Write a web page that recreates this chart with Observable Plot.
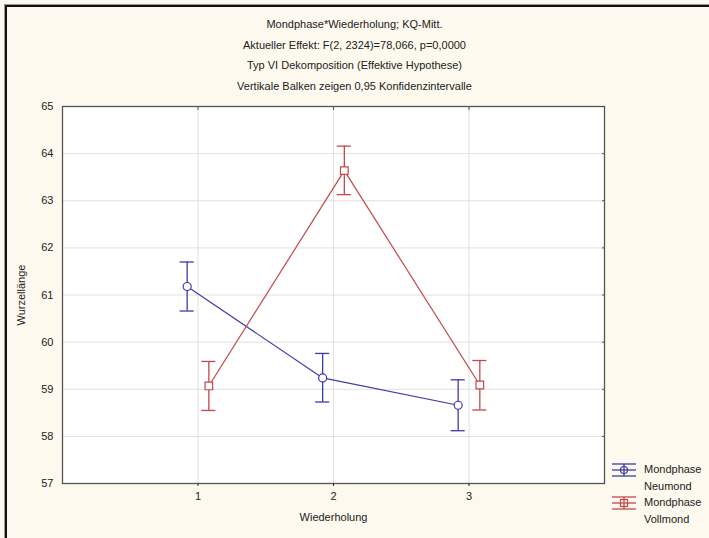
<!DOCTYPE html>
<html><head><meta charset="utf-8">
<script src="https://cdn.jsdelivr.net/npm/d3@7"></script>
<script src="https://cdn.jsdelivr.net/npm/@observablehq/plot@0.6"></script>
<style>
html,body{margin:0;padding:0;}
body{width:709px;height:538px;background:#fdf9ee;position:relative;overflow:hidden;font-family:"Liberation Sans",Arial,sans-serif;}
#border{position:absolute;left:5px;top:5px;width:720px;height:560px;border-left:2px solid #111;border-top:2px solid #111;box-shadow:-1px -1px 0 #999;}
#titles{position:absolute;left:0;top:14px;width:709px;text-align:center;font-size:11px;color:#222;line-height:20.5px;}
#chart{position:absolute;left:0;top:0;}
#legend{position:absolute;left:612px;top:461px;font-size:11px;color:#222;line-height:16.5px;}
#legend .row{display:flex;align-items:flex-start;}
#legend svg{margin-right:6px;margin-top:2px;}
</style></head>
<body>
<div id="border"></div>
<div id="chart"></div>
<div id="titles"></div>
<div id="legend"></div>
<script>
const titleLines = [
  "Mondphase*Wiederholung; KQ-Mitt.",
  "Aktueller Effekt: F(2, 2324)=78,066, p=0,0000",
  "Typ VI Dekomposition (Effektive Hypothese)",
  "Vertikale Balken zeigen 0,95 Konfidenzintervalle"
];
const repetitions = [1, 2, 3];
const series = ["Neumond", "Vollmond"];
const seriesLabels = ["Mondphase\nNeumond", "Mondphase\nVollmond"];
const neumondMean = [61.18, 59.24, 58.66];
const neumondLow  = [60.66, 58.73, 58.12];
const neumondHigh = [61.70, 59.76, 59.20];
const vollmondMean = [59.07, 63.64, 59.09];
const vollmondLow  = [58.55, 63.13, 58.56];
const vollmondHigh = [59.59, 64.16, 59.61];
const yTicks = [57, 58, 59, 60, 61, 62, 63, 64, 65];
const colors = {Neumond: "#3b3ba6", Vollmond: "#c4474a"};
const offsets = {Neumond: -0.08, Vollmond: 0.08};
const capHalf = 0.052;

document.getElementById("titles").innerHTML = titleLines.map(t => `<div>${t}</div>`).join("");

const rows = [];
repetitions.forEach((r, i) => {
  rows.push({phase: "Neumond", rep: r, mean: neumondMean[i], lo: neumondLow[i], hi: neumondHigh[i]});
});
repetitions.forEach((r, i) => {
  rows.push({phase: "Vollmond", rep: r, mean: vollmondMean[i], lo: vollmondLow[i], hi: vollmondHigh[i]});
});
rows.forEach(d => d.xp = d.rep + offsets[d.phase]);

const chart = Plot.plot({
  width: 709, height: 538,
  marginLeft: 62, marginRight: 105, marginTop: 106, marginBottom: 55,
  style: {background: "transparent", fontFamily: "Liberation Sans, Arial, sans-serif", fontSize: "11px", color: "#222"},
  x: {domain: [0, 4]},
  y: {domain: [57, 65]},
  color: {domain: series, range: series.map(s => colors[s])},
  marks: [
    Plot.frame({fill: "white"}),
    Plot.gridX(repetitions, {stroke: "#e0e0e0", strokeOpacity: 1}),
    Plot.gridY(yTicks, {stroke: "#e0e0e0", strokeOpacity: 1}),
    Plot.frame({stroke: "#555", strokeWidth: 1.3}),
    Plot.axisY(yTicks, {anchor: "left", tickSize: 0, tickPadding: 9, tickFormat: "d", label: "Wurzellänge", labelAnchor: "center", labelArrow: "none", labelOffset: 45, fontSize: 11}),
    Plot.axisY(yTicks, {anchor: "right", tickSize: -3, text: null, label: null, stroke: "#555"}),
    Plot.axisX(repetitions, {anchor: "bottom", tickSize: 3, tickPadding: 6, tickFormat: "d", label: "Wiederholung", labelAnchor: "center", labelArrow: "none", labelOffset: 37, fontSize: 11}),
    Plot.axisX(repetitions, {anchor: "top", tickSize: -3, text: null, label: null, stroke: "#555"}),
    Plot.line(rows, {x: "xp", y: "mean", z: "phase", stroke: "phase", strokeWidth: 1.2}),
    Plot.ruleX(rows, {x: "xp", y1: "lo", y2: "hi", stroke: "phase", strokeWidth: 1.3}),
    Plot.ruleY(rows, {y: "lo", x1: d => d.xp - capHalf, x2: d => d.xp + capHalf, stroke: "phase", strokeWidth: 1.3}),
    Plot.ruleY(rows, {y: "hi", x1: d => d.xp - capHalf, x2: d => d.xp + capHalf, stroke: "phase", strokeWidth: 1.3}),
    Plot.dot(rows.filter(d => d.phase === "Neumond"), {x: "xp", y: "mean", r: 4, symbol: "circle", stroke: "phase", fill: "white", strokeWidth: 1.2}),
    Plot.dot(rows.filter(d => d.phase === "Vollmond"), {x: "xp", y: "mean", r: 4.3, symbol: "square", stroke: "phase", fill: "white", strokeWidth: 1.2})
  ]
});
document.getElementById("chart").appendChild(chart);

// legend
const leg = document.getElementById("legend");
series.forEach((s, i) => {
  const c = colors[s];
  const marker = s === "Neumond"
    ? `<circle cx="12" cy="7" r="3.5" fill="none" stroke="${c}" stroke-width="1.2"/>`
    : `<rect x="8.5" y="3.5" width="7" height="7" fill="none" stroke="${c}" stroke-width="1.2"/>`;
  const sym = `<svg width="26" height="14">
    <line x1="0" x2="24" y1="1" y2="1" stroke="${c}" stroke-width="1.3"/>
    <line x1="0" x2="24" y1="13" y2="13" stroke="${c}" stroke-width="1.3"/>
    <line x1="0" x2="24" y1="7" y2="7" stroke="${c}" stroke-width="1.3"/>
    <line x1="12" x2="12" y1="1" y2="13" stroke="${c}" stroke-width="1.3"/>
    ${marker}</svg>`;
  const [a, b] = seriesLabels[i].split("\n");
  const row = document.createElement("div");
  row.className = "row";
  row.innerHTML = sym + `<div>${a}<br>${b}</div>`;
  leg.appendChild(row);
});
</script>
</body></html>
